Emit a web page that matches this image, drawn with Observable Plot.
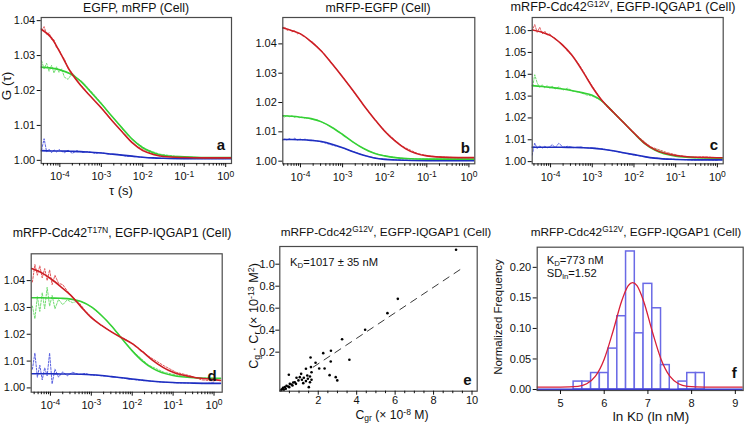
<!DOCTYPE html>
<html><head><meta charset="utf-8">
<script src="https://cdn.jsdelivr.net/npm/d3@7"></script>
<script src="https://cdn.jsdelivr.net/npm/@observablehq/plot@0.6"></script>
<style>
body{margin:0;background:#fff;}
#fig{position:relative;width:751px;height:425px;overflow:hidden;font-family:"Liberation Sans",Arial,sans-serif;color:#111;background:#fff;}
.lbl{position:absolute;white-space:nowrap;line-height:1.2;}
.lbl sup{font-size:0.7em;line-height:0;vertical-align:0.45em;}
.lbl sub{font-size:0.7em;line-height:0;vertical-align:-0.22em;}
</style></head><body><div id="fig"></div>
<script>
// ---------- data ----------
const tauFit = [3.47e-5, 6.31e-5, 1e-4, 1.78e-4, 3.16e-4, 5.62e-4, 1e-3, 1.78e-3, 3.16e-3, 5.62e-3, 1e-2, 1.78e-2, 3.16e-2, 0.1, 0.316, 1, 1.445];
const tauData = [3.63e-5, 4.17e-5, 4.79e-5, 5.5e-5, 6.31e-5, 7.24e-5, 8.32e-5, 9.55e-5, 1.1e-4, 1.29e-4, 1.58e-4, 2e-4, 2.57e-4, 3.47e-4, 5.01e-4, 7.08e-4, 1e-3, 1.58e-3, 2.51e-3, 3.98e-3, 7.08e-3, 1.2e-2, 2.51e-2, 6.03e-2, 0.12, 0.25, 0.5, 1.0];

const aFitRed   = [1.0376, 1.0350, 1.0310, 1.0255, 1.0215, 1.0182, 1.0150, 1.0115, 1.0082, 1.0050, 1.0028, 1.0017, 1.0011, 1.0008, 1.0007, 1.0007, 1.0007];
const aFitGreen = [1.0267, 1.0264, 1.0259, 1.0248, 1.0227, 1.0195, 1.0162, 1.0127, 1.0093, 1.0060, 1.0036, 1.0022, 1.0014, 1.0010, 1.0008, 1.0008, 1.0008];
const aFitBlue  = [1.0028, 1.0027, 1.0027, 1.0026, 1.0025, 1.0023, 1.0021, 1.0018, 1.0015, 1.0012, 1.0009, 1.0007, 1.0006, 1.0005, 1.0005, 1.0005, 1.0005];
const aDataRed   = [1.0372, 1.0383, 1.0360, 1.0365, 1.0346, 1.0345, 1.0322, 1.0318, 1.0300, 1.0290, 1.0262, 1.0250, 1.0228, 1.0212, 1.0188, 1.0170, 1.0152, 1.0120, 1.0096, 1.0068, 1.0041, 1.0026, 1.0013, 1.0009, 1.0008, 1.0008, 1.0007, 1.0007];
const aDataGreen = [1.0285, 1.0262, 1.0278, 1.0255, 1.0272, 1.0250, 1.0268, 1.0252, 1.0262, 1.0238, 1.0232, 1.0250, 1.0236, 1.0225, 1.0205, 1.0185, 1.0164, 1.0134, 1.0107, 1.0076, 1.0050, 1.0032, 1.0018, 1.0012, 1.0009, 1.0008, 1.0008, 1.0008];
const aDataBlue  = [1.0030, 1.0062, 1.0025, 1.0032, 1.0022, 1.0030, 1.0024, 1.0031, 1.0026, 1.0022, 1.0029, 1.0020, 1.0028, 1.0023, 1.0025, 1.0020, 1.0022, 1.0017, 1.0017, 1.0012, 1.0010, 1.0008, 1.0006, 1.0005, 1.0005, 1.0005, 1.0005, 1.0005];

const bFitRed   = [1.0456, 1.0445, 1.0434, 1.0408, 1.0375, 1.0332, 1.0287, 1.0240, 1.0191, 1.0145, 1.0102, 1.0068, 1.0042, 1.0018, 1.0013, 1.0012, 1.0012];
const bFitGreen = [1.0155, 1.0153, 1.0150, 1.0145, 1.0134, 1.0115, 1.0091, 1.0065, 1.0043, 1.0027, 1.0018, 1.0012, 1.0009, 1.0007, 1.0007, 1.0007, 1.0007];
const bFitBlue  = [1.0074, 1.0074, 1.0073, 1.0071, 1.0067, 1.0058, 1.0046, 1.0032, 1.0020, 1.0011, 1.0006, 1.0004, 1.0003, 1.0002, 1.0002, 1.0002, 1.0002];
const bDataRed   = [1.0452, 1.0458, 1.0446, 1.0450, 1.0441, 1.0446, 1.0434, 1.0437, 1.0428, 1.0425, 1.0412, 1.0405, 1.0388, 1.0370, 1.0342, 1.0315, 1.0288, 1.0249, 1.0210, 1.0172, 1.0127, 1.0093, 1.0052, 1.0026, 1.0017, 1.0014, 1.0012, 1.0012];
const bDataGreen = [1.0157, 1.0150, 1.0156, 1.0151, 1.0155, 1.0149, 1.0153, 1.0148, 1.0151, 1.0146, 1.0147, 1.0142, 1.0140, 1.0131, 1.0120, 1.0106, 1.0092, 1.0070, 1.0051, 1.0035, 1.0023, 1.0016, 1.0010, 1.0008, 1.0007, 1.0007, 1.0007, 1.0007];
const bDataBlue  = [1.0070, 1.0076, 1.0072, 1.0077, 1.0073, 1.0078, 1.0072, 1.0076, 1.0073, 1.0075, 1.0070, 1.0072, 1.0068, 1.0064, 1.0057, 1.0051, 1.0046, 1.0035, 1.0025, 1.0016, 1.0009, 1.0006, 1.0004, 1.0003, 1.0002, 1.0002, 1.0002, 1.0002];

const cFitRed   = [1.0604, 1.0592, 1.0577, 1.0540, 1.0490, 1.0420, 1.0342, 1.0276, 1.0227, 1.0179, 1.0131, 1.0085, 1.0055, 1.0028, 1.0020, 1.0018, 1.0018];
const cFitGreen = [1.0348, 1.0344, 1.0340, 1.0334, 1.0326, 1.0316, 1.0304, 1.0275, 1.0227, 1.0179, 1.0130, 1.0084, 1.0053, 1.0025, 1.0018, 1.0016, 1.0016];
const cFitBlue  = [1.0066, 1.0066, 1.0066, 1.0066, 1.0065, 1.0064, 1.0062, 1.0057, 1.0050, 1.0041, 1.0032, 1.0023, 1.0016, 1.0010, 1.0008, 1.0008, 1.0008];
const cDataRed   = [1.0598, 1.0628, 1.0592, 1.0615, 1.0585, 1.0598, 1.0580, 1.0585, 1.0570, 1.0565, 1.0548, 1.0535, 1.0505, 1.0482, 1.0440, 1.0392, 1.0345, 1.0288, 1.0250, 1.0210, 1.0162, 1.0118, 1.0068, 1.0042, 1.0028, 1.0020, 1.0022, 1.0018];
const cDataGreen = [1.0330, 1.0398, 1.0360, 1.0340, 1.0352, 1.0338, 1.0348, 1.0336, 1.0345, 1.0333, 1.0342, 1.0328, 1.0336, 1.0322, 1.0318, 1.0306, 1.0300, 1.0282, 1.0242, 1.0205, 1.0160, 1.0115, 1.0065, 1.0038, 1.0025, 1.0018, 1.0016, 1.0016];
const cDataBlue  = [1.0030, 1.0085, 1.0060, 1.0072, 1.0062, 1.0070, 1.0063, 1.0068, 1.0078, 1.0064, 1.0084, 1.0066, 1.0070, 1.0064, 1.0067, 1.0063, 1.0062, 1.0060, 1.0053, 1.0045, 1.0036, 1.0028, 1.0018, 1.0012, 1.0010, 1.0007, 1.0009, 1.0006];

const dFitRed   = [1.0445, 1.0428, 1.0408, 1.0378, 1.0345, 1.0302, 1.0262, 1.0233, 1.0208, 1.0186, 1.0165, 1.0135, 1.0103, 1.0058, 1.0040, 1.0031, 1.0028];
const dFitGreen = [1.0336, 1.0336, 1.0335, 1.0334, 1.0331, 1.0322, 1.0302, 1.0270, 1.0230, 1.0183, 1.0138, 1.0100, 1.0073, 1.0046, 1.0038, 1.0036, 1.0036];
const dFitBlue  = [1.0053, 1.0053, 1.0053, 1.0052, 1.0052, 1.0051, 1.0049, 1.0046, 1.0042, 1.0038, 1.0033, 1.0029, 1.0025, 1.0020, 1.0018, 1.0017, 1.0017];
const dDataRed   = [1.0395, 1.0460, 1.0420, 1.0455, 1.0410, 1.0445, 1.0400, 1.0440, 1.0385, 1.0420, 1.0390, 1.0385, 1.0362, 1.0338, 1.0318, 1.0288, 1.0265, 1.0238, 1.0218, 1.0200, 1.0180, 1.0158, 1.0118, 1.0082, 1.0058, 1.0046, 1.0030, 1.0026];
const dDataGreen = [1.0305, 1.0258, 1.0340, 1.0285, 1.0355, 1.0295, 1.0375, 1.0305, 1.0345, 1.0295, 1.0330, 1.0310, 1.0328, 1.0318, 1.0325, 1.0315, 1.0302, 1.0276, 1.0248, 1.0212, 1.0165, 1.0128, 1.0085, 1.0058, 1.0048, 1.0040, 1.0037, 1.0036];
const dDataBlue  = [1.0070, 1.0130, 1.0040, 1.0085, 1.0030, 1.0075, 1.0045, 1.0130, 1.0015, 1.0070, 1.0040, 1.0060, 1.0045, 1.0058, 1.0050, 1.0054, 1.0048, 1.0046, 1.0043, 1.0040, 1.0035, 1.0030, 1.0026, 1.0021, 1.0019, 1.0018, 1.0016, 1.0019];

const eX = [9.17, 6.14, 5.60, 4.44, 3.24, 3.62, 2.66, 2.26, 2.65, 2.33, 2.59, 2.91, 2.99, 1.86, 2.05, 1.60, 1.62, 1.36, 1.65, 1.57, 1.51, 0.47, 1.04, 1.15, 1.25, 1.36, 1.46, 1.57, 0.97, 1.22, 1.43, 1.65, 1.11, 0.87, 0.78, 0.09, 0.17, 0.26, 0.35, 0.44, 0.52, 0.61, 0.70, 0.21, 0.05, 0.31, 0.49, 0.66, 0.84, 0.14];
const eY = [1.131, 0.685, 0.555, 0.404, 0.318, 0.131, 0.213, 0.191, 0.115, 0.052, -0.009, -0.027, -0.057, 0.104, 0.052, 0.152, 0.064, 0.049, 0.018, -0.021, -0.118, -0.006, -0.027, -0.051, -0.033, -0.063, -0.042, -0.073, -0.057, -0.082, -0.012, -0.051, 0.003, -0.033, -0.073, -0.139, -0.124, -0.118, -0.106, -0.112, -0.088, -0.094, -0.076, -0.142, -0.148, -0.133, -0.118, -0.103, -0.088, -0.136];
const eFitX = [1.74, 9.57];
const eFitY = [0.064, 0.973];

const fEdges = [5.3, 5.5, 5.7, 5.9, 6.1, 6.3, 6.5, 6.7, 6.9, 7.1, 7.3, 7.5, 7.7, 7.9, 8.1, 8.3];
const fFreq  = [0.013, 0.013, 0.027, 0.027, 0.067, 0.12, 0.226, 0.092, 0.173, 0.133, 0.04, 0, 0.013, 0.027, 0.027];
const fCurveX = [4.45, 5.0, 5.4, 5.6, 5.8, 6.0, 6.2, 6.4, 6.55, 6.65, 6.75, 6.9, 7.1, 7.3, 7.5, 7.7, 7.9, 8.3, 9.2];
const fCurveY = [0.004, 0.004, 0.0053, 0.0094, 0.0218, 0.0497, 0.095, 0.145, 0.170, 0.175, 0.170, 0.145, 0.095, 0.0497, 0.0218, 0.0094, 0.0053, 0.004, 0.004];

const logMajor = [1e-4, 1e-3, 1e-2, 1e-1, 1];
const yTicksA = [1.00, 1.01, 1.02, 1.03, 1.04];
const yTicksC = [1.00, 1.01, 1.02, 1.03, 1.04, 1.05, 1.06];
const eTicksX = [2, 4, 6, 8, 10];
const eTicksY = [0.2, 0.4, 0.6, 0.8, 1.0];
const fTicksX = [5, 6, 7, 8, 9];
const fTicksY = [0, 0.05, 0.10, 0.15, 0.20];

// ---------- helpers ----------
const fig = document.getElementById("fig");
const FONT = '"Liberation Sans", Arial, sans-serif';
const C = {rF:"#cc1e24", gF:"#35d035", bF:"#1e2ec0", rD:"#e0585c", gD:"#72dc72", bD:"#5a62e0"};
const rows = (xs, ys) => xs.map((x, i) => ({x, y: ys[i]}));

function supify(svg){
  svg.querySelectorAll("text").forEach(t => {
    const m = /^10\^(-?\d+)$/.exec(t.textContent);
    if (!m) return;
    t.textContent = "";
    const a = document.createElementNS("http://www.w3.org/2000/svg", "tspan");
    a.textContent = "10";
    const b = document.createElementNS("http://www.w3.org/2000/svg", "tspan");
    b.textContent = m[1];
    b.setAttribute("dy", "-0.45em");
    b.setAttribute("font-size", "8.5");
    t.append(a, b);
  });
}
function place(svg, left, top){
  svg.style.position = "absolute";
  svg.style.left = left + "px";
  svg.style.top = top + "px";
  svg.style.overflow = "visible";
  svg.style.background = "transparent";
  svg.style.maxWidth = "none";
  fig.appendChild(svg);
}
function label(html, x, y, fs, opt = {}){
  const d = document.createElement("div");
  d.className = "lbl";
  d.innerHTML = html;
  d.style.left = x + "px";
  d.style.top = y + "px";
  d.style.fontSize = fs + "px";
  if (opt.bold) d.style.fontWeight = "bold";
  const tx = opt.anchor === "start" ? "0" : opt.anchor === "end" ? "-100%" : "-50%";
  d.style.transform = `translate(${tx},-50%)` + (opt.rotate ? " rotate(-90deg)" : "");
  fig.appendChild(d);
}

function fcsPanel(p){
  const xDom = [10 ** p.lo, 10 ** p.hi];
  const minor = [];
  for (let k = -5; k <= 0; k++) for (let m = 2; m <= 9; m++) {
    const v = m * 10 ** k;
    if (v > xDom[0] && v < xDom[1]) minor.push(v);
  }
  const marks = [];
  for (const [arr, col] of p.data)
    marks.push(Plot.line(rows(tauData, arr), {x: "x", y: "y", stroke: col, strokeWidth: 1, strokeDasharray: "2,1.5", clip: true}));
  for (const [arr, col] of p.fit)
    marks.push(Plot.line(rows(tauFit, arr), {x: "x", y: "y", stroke: col, strokeWidth: 1.6, curve: "monotone-x", clip: true}));
  marks.push(Plot.frame({stroke: "#4a4a4a", strokeWidth: 1.2}));
  marks.push(Plot.axisY(p.yTicks, {tickSize: 4, tickPadding: 2, tickFormat: d3.format(".2f"), label: null, fontSize: 11}));
  marks.push(Plot.axisX(minor, {tickSize: 2.5, tickFormat: () => "", label: null}));
  marks.push(Plot.axisX(logMajor, {tickSize: 4, tickPadding: 5, tickFormat: d => "10^" + Math.round(Math.log10(d)), label: null, fontSize: 11}));
  const svg = Plot.plot({
    width: p.w, height: p.h,
    marginLeft: p.ml, marginRight: p.mr, marginTop: p.mt, marginBottom: p.mb,
    x: {type: "log", domain: xDom},
    y: {domain: p.yDom},
    style: {fontFamily: FONT, fontSize: "11px", color: "#111"},
    marks
  });
  supify(svg);
  place(svg, p.left, p.top);
}

// ---------- panels a-d ----------
fcsPanel({left: 0, top: 0, w: 250, h: 200, ml: 40.7, mr: 19, mt: 17, mb: 37, lo: -4.45, hi: 0.14,
  yDom: [0.9991, 1.0409], yTicks: yTicksA,
  data: [[aDataRed, C.rD], [aDataGreen, C.gD], [aDataBlue, C.bD]],
  fit: [[aFitBlue, C.bF], [aFitGreen, C.gF], [aFitRed, C.rF]]});
fcsPanel({left: 250, top: 0, w: 250, h: 200, ml: 32.3, mr: 25.7, mt: 17, mb: 36.7, lo: -4.42, hi: 0.14,
  yDom: [0.9991, 1.049], yTicks: yTicksA,
  data: [[bDataRed, C.rD], [bDataGreen, C.gD], [bDataBlue, C.bD]],
  fit: [[bFitBlue, C.bF], [bFitGreen, C.gF], [bFitRed, C.rF]]});
fcsPanel({left: 500, top: 0, w: 251, h: 200, ml: 31.7, mr: 28.3, mt: 17, mb: 36.7, lo: -4.44, hi: 0.14,
  yDom: [0.9990, 1.066], yTicks: yTicksC,
  data: [[cDataRed, C.rD], [cDataGreen, C.gD], [cDataBlue, C.bD]],
  fit: [[cFitBlue, C.bF], [cFitGreen, C.gF], [cFitRed, C.rF]]});
fcsPanel({left: 0, top: 200, w: 250, h: 225, ml: 30.7, mr: 28.3, mt: 53.3, mb: 33.3, lo: -4.47, hi: 0.2,
  yDom: [0.9984, 1.050], yTicks: yTicksA,
  data: [[dDataRed, C.rD], [dDataGreen, C.gD], [dDataBlue, C.bD]],
  fit: [[dFitBlue, C.bF], [dFitGreen, C.gF], [dFitRed, C.rF]]});

// ---------- panel e ----------
{
  const minorX = [0.5, 1, 1.5, 2.5, 3, 3.5, 4.5, 5, 5.5, 6.5, 7, 7.5, 8.5, 9, 9.5];
  const svg = Plot.plot({
    width: 250, height: 225, marginLeft: 29.3, marginRight: 23.3, marginTop: 46, marginBottom: 34.3,
    x: {domain: [0, 10.27]}, y: {domain: [-0.155, 1.161]},
    style: {fontFamily: FONT, fontSize: "11px", color: "#111"},
    marks: [
      Plot.line(rows(eFitX, eFitY), {x: "x", y: "y", stroke: "#222", strokeWidth: 0.9, strokeDasharray: "7,6"}),
      Plot.dot(rows(eX, eY), {x: "x", y: "y", r: 1.3, fill: "#000", stroke: "none"}),
      Plot.frame({stroke: "#4a4a4a", strokeWidth: 1.2}),
      Plot.axisY(eTicksY, {tickSize: 4, tickPadding: 1, tickFormat: d3.format(".1f"), label: null, fontSize: 11}),
      Plot.axisX(minorX, {tickSize: 2.5, tickFormat: () => "", label: null}),
      Plot.axisX(eTicksX, {tickSize: 4, tickPadding: 1, tickFormat: d => String(d), label: null, fontSize: 11})
    ]
  });
  place(svg, 250, 200);
}

// ---------- panel f ----------
{
  const bins = fFreq.map((v, i) => ({x1: fEdges[i], x2: fEdges[i + 1], y: v}));
  const svg = Plot.plot({
    width: 251, height: 225, marginLeft: 36.7, marginRight: 8.3, marginTop: 46.7, marginBottom: 35,
    x: {domain: [4.467, 9.18]}, y: {domain: [-0.0016, 0.233]},
    style: {fontFamily: FONT, fontSize: "11px", color: "#111"},
    marks: [
      Plot.rect(bins, {x1: "x1", x2: "x2", y1: 0, y2: "y", fill: "#fff", stroke: "#6a6ae6", strokeWidth: 1.5}),
      Plot.ruleY([0], {stroke: "#3a3ad6", strokeWidth: 2}),
      Plot.line(rows(fCurveX, fCurveY), {x: "x", y: "y", stroke: "#d8203a", strokeWidth: 1.3, curve: "monotone-x", clip: true}),
      Plot.frame({stroke: "#4a4a4a", strokeWidth: 1.2}),
      Plot.axisY(fTicksY, {tickSize: 4, tickPadding: 2, tickFormat: d3.format(".2f"), label: null, fontSize: 11}),
      Plot.axisX(fTicksX, {tickSize: 4, tickPadding: 5, tickFormat: d => String(d), label: null, fontSize: 11})
    ]
  });
  place(svg, 500, 200);
}

// ---------- text ----------
label("EGFP, mRFP (Cell)", 136, 8.3, 12.3);
label("mRFP-EGFP (Cell)", 378, 8.3, 12.3);
label("mRFP-Cdc42<sup>G12V</sup>, EGFP-IQGAP1 (Cell)", 623, 8.3, 12.6);
label("mRFP-Cdc42<sup>T17N</sup>, EGFP-IQGAP1 (Cell)", 122, 233, 12.3);
label("mRFP-Cdc42<sup>G12V</sup>, EGFP-IQGAP1 (Cell)", 386, 232, 11.8);
label("mRFP-Cdc42<sup>G12V</sup>, EGFP-IQGAP1 (Cell)", 636, 232, 11.8);
label("τ (s)", 121, 191, 13);
label("G (τ)", 7, 86, 13.5, {rotate: true});
label("C<sub>gr</sub> (× 10<sup>-8</sup> M)", 392, 415, 12.2);
label("C<sub>g</sub> · C<sub>r</sub> (× 10<sup>-13</sup> M<sup>2</sup>)", 255, 316, 12.6, {rotate: true});
label("ln K<span style=\"font-size:75%\">D</span> (ln nM)", 651, 417, 13.5);
label("Normalized Frequency", 498.5, 317, 11.5, {rotate: true});
label("K<sub>D</sub>=1017 ± 35 nM", 290, 263.3, 11.2, {anchor: "start"});
label("K<sub>D</sub>=773 nM", 546.7, 261, 11.2, {anchor: "start"});
label("SD<sub>ln</sub>=1.52", 546.7, 273.5, 11.2, {anchor: "start"});
const letters = [["a", 225, 150], ["b", 470, 153], ["c", 718, 150], ["d", 216.7, 381.7], ["e", 471.7, 385], ["f", 736.7, 378]];
for (const [t, x, yb] of letters) label(t, x, yb - 0.35 * 15, 15, {anchor: "end", bold: true});
</script></body></html>
